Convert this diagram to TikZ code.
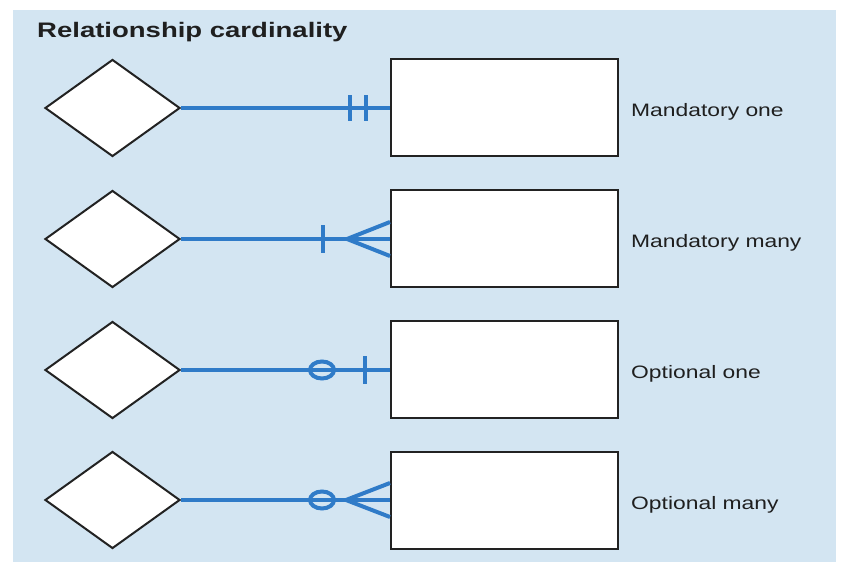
\documentclass[tikz,border=0pt]{standalone}
\usepackage{fontspec}
\setmainfont{Liberation Sans}
\usetikzlibrary{shapes.geometric}
\definecolor{bgblue}{HTML}{D3E5F2}
\definecolor{lineblue}{HTML}{2F7BC8}
\definecolor{edgegray}{HTML}{222222}
\newcommand{\wideA}[1]{\scalebox{1.27}[1]{#1}}
\begin{document}
\begin{tikzpicture}[x=1pt,y=-1pt,
  rel/.style={diamond,draw=edgegray,fill=white,line width=2pt,minimum width=135pt,minimum height=97pt,inner sep=0pt,aspect=1.4},
  ent/.style={rectangle,draw=edgegray,fill=white,line width=2pt,minimum width=227pt,minimum height=97pt,inner sep=0pt},
  lbl/.style={anchor=base west,font=\fontsize{18}{21}\selectfont,text=black!88,inner sep=0pt},
  conn/.style={draw=lineblue,line width=3.2pt},
  tickmark/.style={draw=lineblue,line width=4pt}]
\useasboundingbox (0,0) rectangle (860,585);
\fill[white] (0,0) rectangle (860,585);
\fill[bgblue] (13,10) rectangle (836,562);
\node[anchor=base west,font=\bfseries\fontsize{21}{24}\selectfont,text=black!88,inner sep=0pt] (title) at (37,38) {\scalebox{1.31}[1]{Relationship cardinality}};
% row 1
\node[rel] (r1) at (112.5,108) {};
\node[ent] (e1) at (504.5,108) {};
\node[lbl] (l1) at (631,117) {\wideA{Mandatory one}};
\draw[conn] (r1.east) -- (e1.west);
\coordinate (b1a) at (350,108); \coordinate (b1b) at (366,108);
\draw[tickmark] ([yshift=-13pt]b1a) -- ([yshift=13pt]b1a);
\draw[tickmark] ([yshift=-13pt]b1b) -- ([yshift=13pt]b1b);
% row 2
\node[rel] (r2) at (112.5,239) {};
\node[ent] (e2) at (504.5,239) {};
\node[lbl] (l2) at (631,248) {\wideA{Mandatory many}};
\draw[conn] (r2.east) -- (e2.west);
\coordinate (b2) at (323,239); \coordinate (c2) at (347,239);
\draw[tickmark] ([yshift=-14pt]b2) -- ([yshift=14pt]b2);
\draw[tickmark] ([yshift=-17pt]e2.west) -- (c2) -- ([yshift=17pt]e2.west);
% row 3
\node[rel] (r3) at (112.5,370) {};
\node[ent] (e3) at (504.5,370) {};
\node[lbl] (l3) at (631,379) {\wideA{Optional one}};
\draw[conn] (r3.east) -- (e3.west);
\coordinate (o3) at (322,370); \coordinate (b3) at (365,370);
\draw[tickmark,fill=bgblue] (o3) ellipse (12pt and 8.5pt);
\draw[conn] ([xshift=-12pt]o3) -- ([xshift=12pt]o3);
\draw[tickmark] ([yshift=-14pt]b3) -- ([yshift=14pt]b3);
% row 4
\node[rel] (r4) at (112.5,500) {};
\node[ent] (e4) at (504.5,500) {};
\node[lbl] (l4) at (631,509) {\wideA{Optional many}};
\draw[conn] (r4.east) -- (e4.west);
\coordinate (o4) at (322,500); \coordinate (c4) at (346,500);
\draw[tickmark,fill=bgblue] (o4) ellipse (12pt and 8.5pt);
\draw[conn] ([xshift=-12pt]o4) -- ([xshift=12pt]o4);
\draw[tickmark] ([yshift=-17pt]e4.west) -- (c4) -- ([yshift=17pt]e4.west);
\end{tikzpicture}
\end{document}
